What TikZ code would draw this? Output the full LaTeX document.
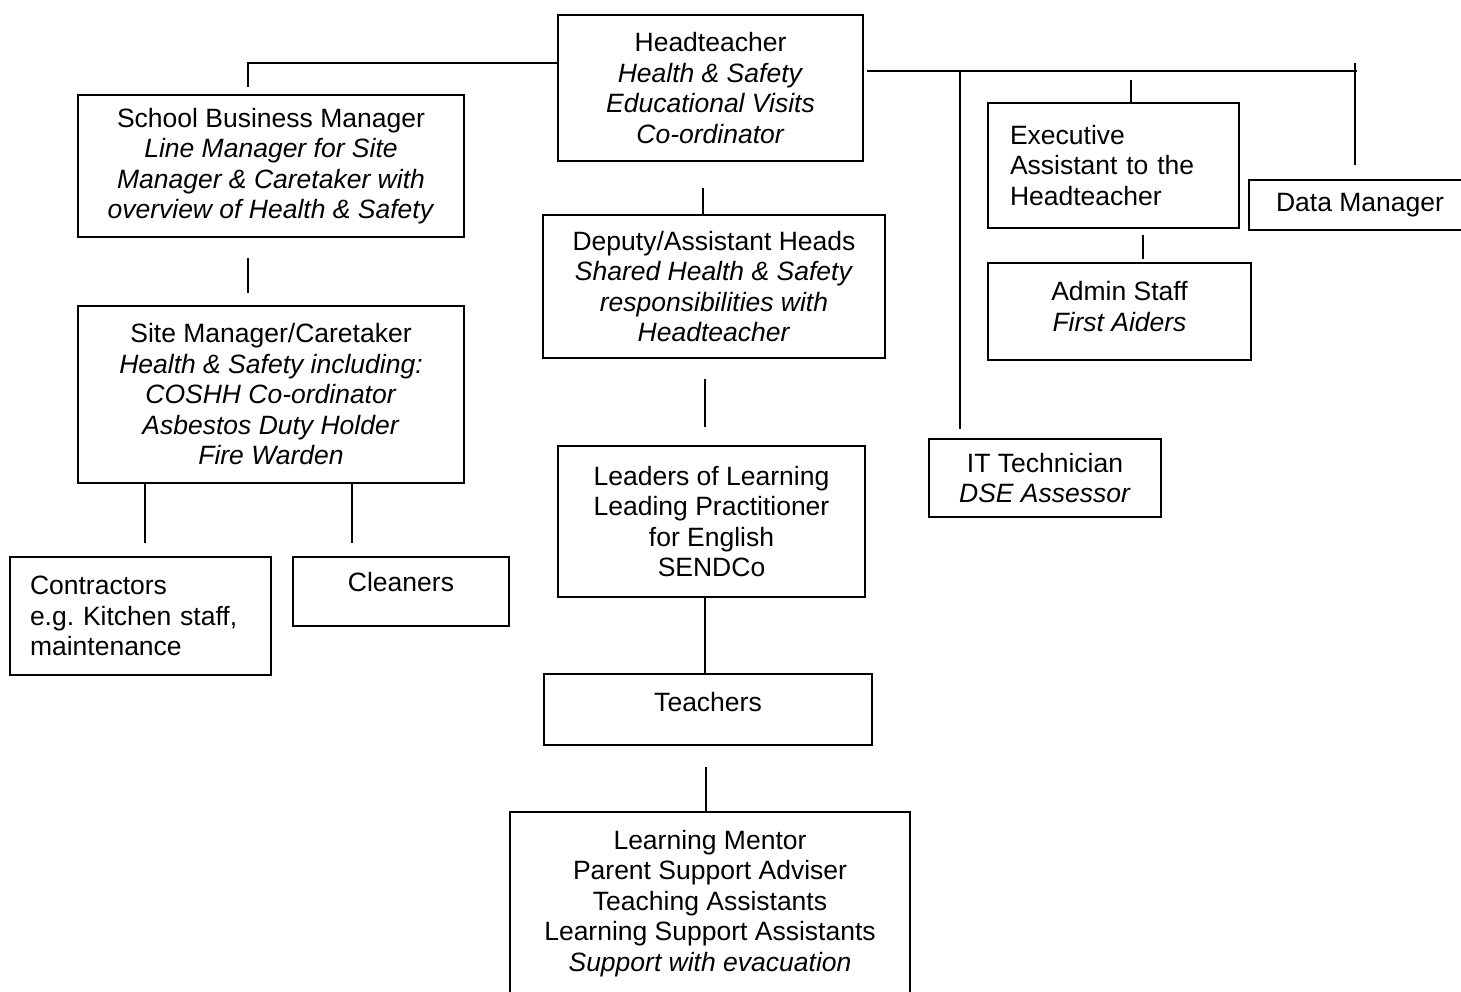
\documentclass[tikz,border=0pt]{standalone}
\usepackage{fontspec}
\setmainfont{Liberation Sans}
\begin{document}
\begin{tikzpicture}
[x=1pt,y=-1pt,
 boxdecorate/.style={shape=rectangle,draw,line width=1.6pt,align=center,inner sep=0pt,%
   font=\fontsize{26.5}{30.5}\selectfont},%
 leftdecorate/.style={boxdecorate,align=left},%
 linedecorate/.style={-,line width=1.5pt}]
\useasboundingbox (0,0) rectangle (1461,991);
%% boxes
\node (head) at (710.5,88) [boxdecorate,minimum width=305,minimum height=146]
  {Headteacher\\ \textit{Health \& Safety}\\ \textit{Educational Visits}\\ \textit{Co-ordinator}};
\node (sbm) at (271,166) [boxdecorate,minimum width=386,minimum height=142]
  {School Business Manager\\ \textit{Line Manager for Site}\\ \textit{Manager \& Caretaker with}\\ \textit{overview of Health \& Safety}};
\node (site) at (271,394.5) [boxdecorate,minimum width=386,minimum height=177]
  {Site Manager/Caretaker\\ \textit{Health \& Safety including:}\\ \textit{COSHH Co-ordinator}\\ \textit{Asbestos Duty Holder}\\ \textit{Fire Warden}};
\node (contr) at (140.5,616) [leftdecorate,minimum width=261,minimum height=118,text width=221]
  {Contractors\\ e.g.\ Kitchen staff,\\ maintenance};
\node (clean) at (401,591.5) [boxdecorate,minimum width=216,minimum height=69,text depth=20]
  {Cleaners};
\node (deputy) at (714,286.5) [boxdecorate,minimum width=342,minimum height=143]
  {Deputy/Assistant Heads\\ \textit{Shared Health \& Safety}\\ \textit{responsibilities with}\\ \textit{Headteacher}};
\node (leaders) at (711.5,521.5) [boxdecorate,minimum width=307,minimum height=151]
  {Leaders of Learning\\ Leading Practitioner\\ for English\\ SENDCo};
\node (teach) at (708,709.5) [boxdecorate,minimum width=328,minimum height=71,text depth=16]
  {Teachers};
\node (mentor) at (710,906) [boxdecorate,minimum width=400,minimum height=188,text depth=11]
  {Learning Mentor\\ Parent Support Adviser\\ Teaching Assistants\\ Learning Support Assistants\\ \textit{Support with evacuation}};
\node (exec) at (1113.5,165.5) [leftdecorate,minimum width=251,minimum height=125,text width=207]
  {Executive\\ Assistant to the\\ Headteacher};
\node (data) at (1356,205) [boxdecorate,minimum width=214,minimum height=50]
  {\hspace*{8pt}Data Manager};
\node (admin) at (1119.5,311.5) [boxdecorate,minimum width=263,minimum height=97,text depth=10]
  {Admin Staff\\ \textit{First Aiders}};
\node (ittech) at (1045,478) [boxdecorate,minimum width=232,minimum height=78]
  {IT Technician\\ \textit{DSE Assessor}};
%% free ends of the lines
\foreach \cname/\x/\y in {
  lturn/248/63, sbmtip/248/87, sbmlow/248/258, sitetip/248/293,
  contrtip/145/543, cleantip/352/543, headlow/703/188,
  deplow/705/379, leadtip/705/427, leadlow/705/0, teachlow/706/767,
  rstart/867/71, rend/1357/71, datatick/1355/63, datatip/1355/165,
  ittip/960/429, execbar/1131/80, execlow/1143/235, admintip/1143/259}
{
  \coordinate (\cname) at (\x,\y);
}
%% edges or lines
\draw[linedecorate] (head.west |- lturn) -- (lturn) -- (sbmtip);
\draw[linedecorate] (sbmlow) -- (sitetip);
\draw[linedecorate] (site.south -| contrtip) -- (contrtip);
\draw[linedecorate] (site.south -| cleantip) -- (cleantip);
\draw[linedecorate] (headlow) -- (headlow |- deputy.north);
\draw[linedecorate] (deplow) -- (leadtip);
\draw[linedecorate] (leaders.south -| leadlow) -- (teach.north -| leadlow);
\draw[linedecorate] (teachlow) -- (teachlow |- mentor.north);
\draw[linedecorate] (rstart) -- (rend);
\draw[linedecorate] (datatick) -- (datatip);
\draw[linedecorate] (ittip |- rstart) -- (ittip);
\draw[linedecorate] (execbar) -- (execbar |- exec.north);
\draw[linedecorate] (execlow) -- (admintip);
\end{tikzpicture}
\end{document}
